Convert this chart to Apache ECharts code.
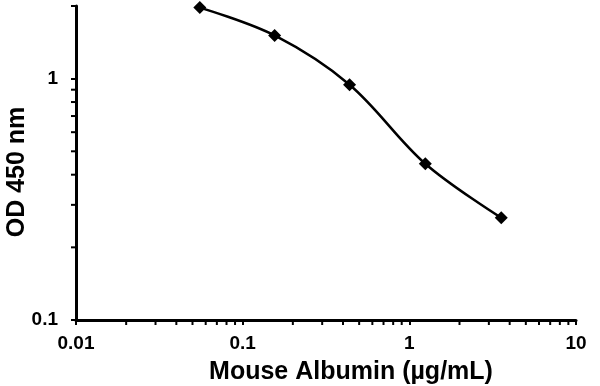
<!DOCTYPE html>
<html>
<head>
<meta charset="utf-8">
<script src="https://cdn.jsdelivr.net/npm/echarts@6/dist/echarts.min.js"></script>
<style>html,body{margin:0;padding:0;background:#fff;}#c{width:600px;height:386px;}</style>
</head>
<body>
<div id="c"></div>
<script>
const concentrations = [0.0553, 0.1555, 0.438, 1.247, 3.56];
const odValues = [1.97, 1.51, 0.944, 0.444, 0.265];
const xMinorTicks = [0.02,0.03,0.04,0.05,0.06,0.07,0.08,0.09,0.2,0.3,0.4,0.5,0.6,0.7,0.8,0.9,2,3,4,5,6,7,8,9];
const yMinorTicks = [0.2,0.3,0.4,0.5,0.6,0.7,0.8,0.9];
const xTitle = 'Mouse Albumin (µg/mL)';
const yTitle = 'OD 450 nm';
const X_MIN = 0.01, X_MAX = 10, Y_MIN = 0.1, Y_MAX = 2;

const chart = echarts.init(document.getElementById('c'));
const font = 'Liberation Sans, Arial, sans-serif';
function powLabel(v){
  const l = Math.log10(v);
  if (Math.abs(l - Math.round(l)) < 1e-6) return String(Number(Math.pow(10, Math.round(l)).toPrecision(1)));
  return '';
}
chart.setOption({
  animation: false,
  grid: {left: 76, right: 24, top: 6, bottom: 66},
  xAxis: {
    type: 'log', logBase: 10, min: X_MIN, max: X_MAX,
    axisLine: {lineStyle: {color: '#000', width: 3}},
    axisTick: {show: true, inside: false, length: 5, lineStyle: {color: '#000', width: 2}},
    axisLabel: {color: '#000', fontFamily: font, fontWeight: 'bold', fontSize: 19, margin: 14, formatter: powLabel},
    splitLine: {show: false}
  },
  yAxis: {
    type: 'log', logBase: 10, min: Y_MIN, max: Y_MAX,
    axisLine: {lineStyle: {color: '#000', width: 3}},
    axisTick: {show: true, inside: false, length: 5, lineStyle: {color: '#000', width: 2}},
    axisLabel: {color: '#000', fontFamily: font, fontWeight: 'bold', fontSize: 19, margin: 18, formatter: powLabel},
    splitLine: {show: false}
  },
  graphic: [
    {type: 'text', x: 351, y: 372, style: {text: xTitle, x: 0, y: 0, textAlign: 'center', textVerticalAlign: 'middle', fill: '#000', font: 'bold 25px ' + font}},
    {type: 'text', rotation: Math.PI/2, x: 17, y: 172, style: {text: yTitle, x: 0, y: 0, textAlign: 'center', textVerticalAlign: 'middle', fill: '#000', font: 'bold 25px ' + font}}
  ],
  series: [
    {
      type: 'line', data: concentrations.map((c, i) => [c, odValues[i]]),
      smooth: 0.35, symbol: 'diamond', symbolSize: 13,
      lineStyle: {color: '#000', width: 2.5}, itemStyle: {color: '#000'}
    },
    {
      type: 'custom', clip: false, silent: true,
      data: xMinorTicks.map(v => [v, Y_MIN]),
      renderItem: function(params, api){
        const p = api.coord([api.value(0), api.value(1)]);
        return {type: 'line', shape: {x1: p[0], y1: p[1], x2: p[0], y2: p[1] + 5}, style: {stroke: '#000', lineWidth: 2}};
      }
    },
    {
      type: 'custom', clip: false, silent: true,
      data: yMinorTicks.map(v => [X_MIN, v]),
      renderItem: function(params, api){
        const p = api.coord([api.value(0), api.value(1)]);
        return {type: 'line', shape: {x1: p[0] - 5, y1: p[1], x2: p[0], y2: p[1]}, style: {stroke: '#000', lineWidth: 2}};
      }
    }
  ]
});
</script>
</body>
</html>
